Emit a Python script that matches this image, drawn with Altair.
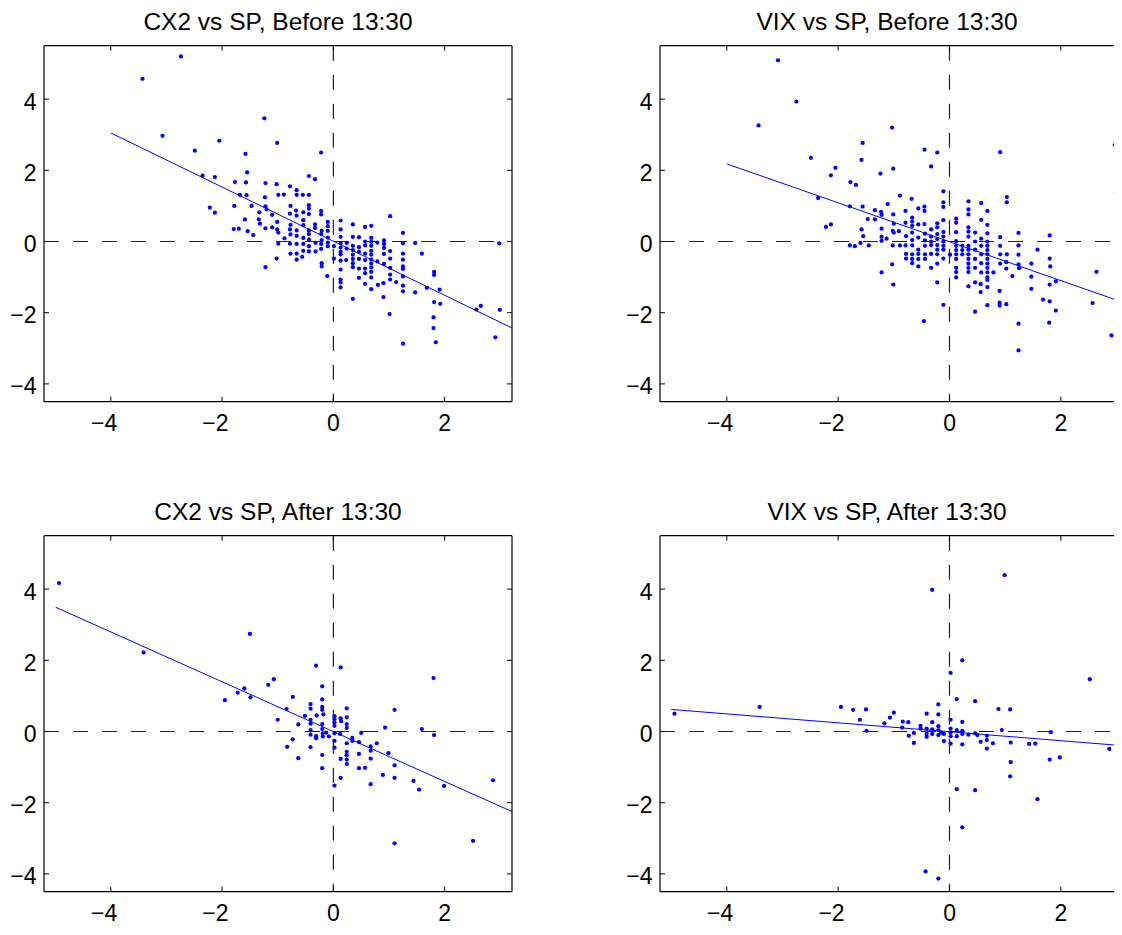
import altair as alt
import pandas as pd

# ---------------- data ----------------
# Top-left: CX2 vs SP, Before 13:30
tl_x = [-3.43, -2.74, -3.07, -2.49, -2.05, -2.35, -2.13, -2.22, -2.13, -1.77, -1.58, -1.55, -1.57, -1.68, -1.56,
        -1.78, -1.79, -1.70, -1.59, -1.54, -1.44, -1.47, -1.33, -1.34, -1.32, -1.24, -1.22, -1.23, -1.22, -1.20,
        -1.22, -1.22, -1.10, -1.10, -1.01, -1.02, -0.99, -1.01, -1.01, -0.99, -0.99, -1.02, -0.89, -0.88, -0.78,
        -0.66, -0.66, -0.77, -0.78, -0.77, -0.78, -0.77, -0.78, -0.77, -0.67, -0.66, -0.66, -0.66, -0.66, -0.66,
        -0.66, -0.55, -0.54, -0.54, -0.54, -0.54, -0.54, -0.54, -0.56, -0.44, -0.44, -0.44, -0.44, -0.44, -0.44,
        -0.44, -0.44, -0.44, -0.44, -0.33, -0.33, -0.33, -0.32, -0.32, -0.22, -0.22, -0.22, -0.21, -0.22, -0.21,
        -0.22, -0.22, -0.21, -0.21, -0.10, -0.10, -0.10, -0.10, -0.10, -0.10, -0.11, 0.01, 0.01, 0.13, 0.13,
        0.13, 0.13, 0.13, 0.13, 0.13, 0.13, 0.13, 0.13, 0.13, 0.13, 0.24, 0.24, 0.23, 0.35, 0.35, 0.35,
        0.35, 0.35, 0.35, 0.35, 0.35, 0.35, 0.46, 0.46, 0.46, 0.46, 0.46, 0.46, 0.57, 0.57, 0.57, 0.57,
        0.57, 0.57, 0.57, 0.57, 0.68, 0.68, 0.68, 0.68, 0.68, 0.68, 0.68, 0.68, 0.68, 0.68, 0.68, 0.68,
        0.79, 0.79, 0.80, 0.91, 0.91, 0.91, 0.91, 0.91, 0.90, 0.90, 1.02, 1.02, 1.02, 1.02, 1.02, 1.02,
        1.01, 1.13, 1.25, 1.25, 1.25, 1.25, 1.25, 1.25, 1.25, 1.25, 1.25, 1.25, 1.47, 1.59, 1.47, 1.68,
        1.81, 1.81, 1.91, 1.81, 1.92, 1.80, 1.80, 1.84, 2.57, 2.65, 2.91, 2.99, 2.98]
tl_y = [4.57, 5.20, 2.97, 2.55, 2.83, 1.85, 1.81, 0.95, 0.81, 1.67, 2.46, 1.94, 1.66, 1.31, 1.30,
        1.00, 0.35, 0.36, 0.62, 0.29, 0.18, 1.00, 0.82, 0.62, 0.50, 3.46, 1.64, 1.24, 0.99, 0.90,
        0.37, -0.72, 0.75, 0.40, 2.77, 1.61, 1.31, 0.55, 0.34, 0.25, -0.06, -0.48, 1.32, 0.09, 1.55,
        1.44, 1.31, 1.00, 0.78, 0.47, 0.34, 0.20, -0.06, -0.34, 0.87, 0.73, 0.31, 0.16, -0.07, -0.34,
        -0.51, 1.31, 0.82, 0.60, 0.46, 0.10, -0.07, -0.26, -0.43, 1.84, 1.31, 1.02, 0.92, 0.77, 0.31,
        0.21, 0.05, -0.13, -0.28, 1.75, 0.48, 0.38, -0.04, -0.28, 2.50, 0.86, 0.76, 0.30, 0.21, 0.04,
        -0.07, -0.21, -0.61, -0.70, 0.55, 0.43, 0.30, 0.11, -0.03, -0.13, -0.97, -0.13, -0.48, 0.59, 0.34,
        0.13, -0.05, -0.17, -0.29, -0.36, -0.54, -0.79, -1.07, -1.15, -1.29, -0.04, -0.20, -0.52, 0.48, 0.13,
        -0.12, -0.24, -0.37, -0.49, -0.61, -0.72, -1.61, 0.12, -0.16, -0.29, -0.49, -0.76, -1.02, 0.41, 0.00,
        -0.11, -0.34, -0.52, -0.76, -0.89, -1.19, 0.44, 0.10, -0.01, -0.12, -0.26, -0.37, -0.51, -0.62, -0.73,
        -0.85, -1.01, -1.34, -0.03, -0.56, -1.22, 0.03, -0.07, -0.18, -0.35, -0.63, -1.17, -1.56, 0.71, -0.27,
        -0.48, -0.74, -0.93, -1.07, -2.04, -1.14, 0.24, -0.05, -0.34, -0.51, -0.70, -0.77, -0.98, -1.24, -1.40,
        -2.87, -0.04, -0.34, -1.43, -1.30, -0.85, -0.94, -1.35, -1.70, -1.75, -2.13, -2.43, -2.83, -1.91, -1.81,
        -2.69, -1.92, -0.05]

# Top-right: VIX vs SP, Before 13:30
tr_x = [-3.08, -2.75, -3.43, -2.49, -2.36, -2.13, -2.05, -2.22, -2.13, -1.78, -1.68, -1.79, -1.79, -1.70, -1.56,
        -1.58, -1.56, -1.58, -1.55, -1.60, -1.45, -1.47, -1.34, -1.34, -1.24, -1.23, -1.22, -1.22, -1.22, -1.22,
        -1.22, -1.13, -1.11, -1.03, -1.01, -1.01, -1.00, -1.02, -1.00, -1.02, -1.03, -1.01, -0.91, -0.89, -0.89,
        -0.79, -0.79, -0.78, -0.79, -0.78, -0.78, -0.68, -0.67, -0.67, -0.67, -0.67, -0.67, -0.67, -0.67, -0.67,
        -0.67, -0.56, -0.56, -0.56, -0.56, -0.56, -0.56, -0.56, -0.45, -0.45, -0.45, -0.45, -0.44, -0.44, -0.44,
        -0.44, -0.44, -0.46, -0.33, -0.33, -0.33, -0.33, -0.33, -0.33, -0.33, -0.22, -0.22, -0.22, -0.22, -0.22,
        -0.22, -0.22, -0.22, -0.22, -0.22, -0.11, -0.11, -0.11, -0.11, -0.11, -0.11, -0.11, -0.11, -0.11, -0.11,
        -0.11, 0.01, 0.12, 0.12, 0.12, 0.12, 0.12, 0.12, 0.12, 0.12, 0.12, 0.12, 0.12, 0.23, 0.23, 0.23,
        0.34, 0.34, 0.34, 0.34, 0.34, 0.34, 0.34, 0.34, 0.34, 0.34, 0.34, 0.34, 0.34, 0.34, 0.46, 0.46,
        0.46, 0.46, 0.46, 0.46, 0.46, 0.57, 0.57, 0.57, 0.57, 0.57, 0.57, 0.57, 0.56, 0.56, 0.68, 0.68,
        0.68, 0.68, 0.68, 0.68, 0.68, 0.68, 0.68, 0.68, 0.68, 0.68, 0.68, 0.68, 0.68, 0.79, 0.91, 0.91,
        0.91, 0.91, 0.91, 0.90, 0.90, 0.90, 1.03, 1.03, 1.03, 1.02, 1.02, 1.02, 1.13, 1.24, 1.24, 1.24,
        1.24, 1.25, 1.24, 1.24, 1.47, 1.47, 1.47, 1.58, 1.68, 1.80, 1.80, 1.81, 1.80, 1.80, 1.79, 1.91,
        1.91, 2.57, 2.64, 2.91, 2.97, 2.99]
tr_y = [5.09, 3.93, 3.26, 2.35, 1.22, 1.86, 2.07, 0.41, 0.48, 1.67, 1.59, 0.99, -0.11, -0.13, 2.77,
        2.29, 0.98, 0.34, 0.15, -0.04, -0.11, 0.63, 0.88, 0.62, 1.91, 0.83, 0.75, 0.36, 0.13, 0.02,
        -0.87, 0.08, 1.05, 3.20, 2.05, 0.76, 0.50, 0.30, 0.25, -0.11, -0.64, -1.21, 0.29, -0.11, 1.29,
        0.86, 0.53, 0.15, -0.11, -0.35, -0.48, 1.20, 0.67, 0.56, 0.44, 0.25, 0.04, -0.11, -0.36, -0.49,
        -0.61, 0.93, 0.48, 0.11, -0.23, -0.35, -0.49, -0.70, 2.58, 0.98, 0.86, 0.49, 0.22, 0.03, -0.12,
        -0.36, -0.49, -2.24, 2.11, 0.34, 0.14, 0.00, -0.10, -0.35, -0.74, 2.50, 0.51, 0.40, 0.21, 0.07,
        -0.10, -0.23, -0.36, -0.62, -1.15, 1.41, 1.10, 0.97, 0.60, 0.27, 0.14, 0.00, -0.12, -0.23, -0.48,
        -1.78, -0.37, 0.64, 0.53, 0.26, 0.01, -0.12, -0.24, -0.36, -0.49, -0.74, -0.86, -1.01, -0.12, -0.24,
        -0.36, 1.13, 0.90, 0.76, 0.40, 0.28, 0.14, -0.12, -0.23, -0.36, -0.49, -0.62, -0.74, -0.86, -1.26,
        0.25, 0.00, -0.23, -0.49, -0.74, -1.15, -1.97, 1.08, 0.61, 0.08, -0.12, -0.36, -0.61, -0.87, -1.20,
        -1.42, 0.86, 0.47, 0.23, 0.00, -0.12, -0.24, -0.36, -0.49, -0.62, -0.74, -0.87, -1.01, -1.08, -1.28,
        -1.79, -0.87, 2.51, 0.12, -0.12, -0.36, -0.62, -1.39, -1.72, -1.80, 1.25, 1.10, -0.36, -0.58, -0.76,
        -1.76, -0.97, 0.24, -0.11, -0.37, -0.64, -0.75, -2.31, -3.06, -0.62, -0.99, -1.33, -0.23, -1.63, 0.17,
        -0.48, -0.70, -1.21, -1.68, -2.28, -1.12, -1.94, -1.73, -0.85, -2.64, 2.71, 1.37]

# Bottom-left: CX2 vs SP, After 13:30
bl_x = [-4.93, -3.41, -1.50, -1.95, -1.72, -1.60, -1.49, -1.17, -1.07, -1.00, -0.84, -0.83, -0.73, -0.73, -0.63,
        -0.63, -0.51, -0.41, -0.41, -0.41, -0.41, -0.41, -0.41, -0.41, -0.31, -0.30, -0.31, -0.31, -0.20, -0.20,
        -0.20, -0.20, -0.18, -0.20, -0.20, -0.19, -0.19, -0.20, -0.20, -0.13, -0.08, 0.02, 0.02, 0.02, 0.02,
        0.02, 0.02, 0.02, 0.02, 0.13, 0.13, 0.14, 0.12, 0.13, 0.13, 0.24, 0.24, 0.24, 0.24, 0.24, 0.24,
        0.24, 0.24, 0.24, 0.34, 0.34, 0.46, 0.46, 0.46, 0.50, 0.57, 0.67, 0.67, 0.67, 0.67, 0.78, 0.89,
        0.93, 0.99, 1.10, 1.10, 1.10, 1.10, 1.44, 1.54, 1.59, 1.80, 1.81, 1.99, 2.51, 2.87]
bl_y = [4.17, 2.22, 2.74, 0.88, 1.09, 1.21, 0.96, 1.31, 1.47, 0.33, 0.63, -0.43, 0.97, -0.22, 0.20,
        -0.75, 0.44, 0.77, 0.64, 0.33, 0.22, 0.04, -0.09, -0.44, 1.85, 0.45, -0.13, -0.19, 1.27, 0.90,
        0.69, 0.61, 0.48, 0.21, 0.07, -0.05, -0.14, -0.66, -1.03, -0.03, -0.14, 0.43, 0.35, 0.25, 0.16,
        -0.05, -0.26, -0.45, -1.52, 1.80, 0.37, 0.29, -0.07, -0.77, -1.30, 0.65, 0.40, 0.21, 0.10, -0.33,
        -0.57, -0.67, -0.79, -0.91, -0.18, -0.26, -0.30, -0.63, -1.03, -0.04, -1.02, -0.42, -0.54, -0.76, -1.48,
        -0.33, -1.22, 0.11, -0.61, 0.61, -0.95, -1.30, -3.14, -1.39, -1.63, 0.07, 1.50, -0.10, -1.53, -3.07,
        -1.37]

# Bottom-right: VIX vs SP, After 13:30
br_x = [-4.94, -3.41, -1.95, -1.73, -1.50, -1.61, -1.49, -1.17, -1.07, -1.00, -0.84, -0.74, -0.85, -0.73, -0.64,
        -0.64, -0.52, -0.52, -0.41, -0.41, -0.41, -0.41, -0.31, -0.31, -0.31, -0.31, -0.20, -0.20, -0.20, -0.20,
        -0.20, -0.15, -0.10, -0.10, -0.43, -0.20, 0.02, 0.02, 0.02, 0.02, 0.02, 0.02, 0.13, 0.13, 0.13,
        0.13, 0.23, 0.23, 0.23, 0.23, 0.23, 0.23, 0.34, 0.46, 0.46, 0.50, 0.46, 0.56, 0.67, 0.67, 0.67,
        0.78, 0.88, 0.94, 0.99, 1.09, 1.10, 1.10, 1.09, 1.43, 1.54, 1.58, 1.82, 1.80, 1.98, 2.52, 2.87]
br_y = [0.50, 0.69, 0.69, 0.61, 0.62, 0.33, 0.02, 0.23, 0.39, 0.53, 0.28, 0.26, 0.11, -0.12, -0.04,
        -0.32, 0.16, 0.08, 0.50, 0.08, -0.06, -0.15, 3.98, 0.26, 0.06, -0.07, 0.76, 0.48, 0.15, 0.04,
        -0.10, -0.03, -0.07, -0.27, -3.93, -4.13, 1.65, 0.33, 0.08, -0.03, -0.13, -0.34, 0.91, 0.04, -0.13,
        -1.62, 2.00, 0.27, 0.02, -0.07, -0.36, -2.69, -0.09, 0.85, -0.05, -0.10, -1.65, -0.29, -0.12, -0.24,
        -0.48, -0.33, 0.63, 0.04, 4.39, 0.62, -0.31, -0.86, -1.26, -0.35, -0.34, -1.90, -0.02, -0.79, -0.73,
        1.47, -0.49]

# fitted regression lines (end points)
tl_fit_x = [-4.0, 3.21]
tl_fit_y = [3.05, -2.43]
tr_fit_x = [-4.0, 3.21]
tr_fit_y = [2.18, -1.76]
bl_fit_x = [-4.99, 3.21]
bl_fit_y = [3.49, -2.25]
br_fit_x = [-5.0, 3.21]
br_fit_y = [0.62, -0.41]

titles = ["CX2 vs SP, Before 13:30", "VIX vs SP, Before 13:30",
          "CX2 vs SP, After 13:30", "VIX vs SP, After 13:30"]

# left panels show the full x range; the right panels are cut at the page edge
X_DOMAIN_LEFT = [-5.2, 3.21]
X_DOMAIN_RIGHT = [-5.2, 2.955]
Y_DOMAIN = [-4.5, 5.5]
X_TICKS = [-4, -2, 0, 2]
Y_TICKS = [-4, -2, 0, 2, 4]

W_LEFT, W_RIGHT, H = 468, 454, 356
ROW_GAP, COL_GAP = 134, 148
FONT = "Liberation Sans"
BLUE = "#0000ff"

ys = alt.Scale(domain=Y_DOMAIN, nice=False, zero=False)

XAXIS = alt.Axis(values=X_TICKS, ticks=False, tickSize=0, domain=False, grid=False, title=None,
                 labelFont=FONT, labelFontSize=23, labelColor="black", labelAlign="right",
                 labelOffset=6, labelPadding=11)
YAXIS = alt.Axis(values=Y_TICKS, ticks=False, tickSize=0, domain=False, grid=False, title=None,
                 labelFont=FONT, labelFontSize=23, labelColor="black", labelPadding=8,
                 labelOffset=3)


def panel(title, px, py, fx, fy, x_domain, W, right_side=True):
    xs = alt.Scale(domain=x_domain, nice=False, zero=False)
    pts = pd.DataFrame({"x": px, "y": py})
    fit = pd.DataFrame({"x": fx, "y": fy})
    xt = pd.DataFrame({"x": X_TICKS})
    yt = pd.DataFrame({"y": Y_TICKS})
    zx = pd.DataFrame({"x": [0]})
    zy = pd.DataFrame({"y": [0]})
    one = pd.DataFrame({"k": [0]})

    X = alt.X("x:Q", scale=xs, axis=XAXIS)
    Y = alt.Y("y:Q", scale=ys, axis=YAXIS)

    points = alt.Chart(pts).mark_circle(color=BLUE, opacity=1, size=18).encode(x=X, y=Y)
    line = alt.Chart(fit).mark_line(color=BLUE, strokeWidth=1, clip=True).encode(x=X, y=Y)
    vdash = alt.Chart(zx).mark_rule(color="#222222", strokeWidth=1.2, strokeDash=[15, 14]).encode(
        x=X, y=alt.value(0), y2=alt.value(H))
    hdash = alt.Chart(zy).mark_rule(color="#222222", strokeWidth=1.2, strokeDash=[15, 14]).encode(
        y=Y, x=alt.value(0), x2=alt.value(W))
    xb = alt.Chart(xt).mark_rule(color="black", strokeWidth=1).encode(
        x=X, y=alt.value(H), y2=alt.value(H - 5))
    xtp = alt.Chart(xt).mark_rule(color="black", strokeWidth=1).encode(
        x=X, y=alt.value(0), y2=alt.value(5))
    yl = alt.Chart(yt).mark_rule(color="black", strokeWidth=1).encode(
        y=Y, x=alt.value(0), x2=alt.value(5))
    # box edges
    top = alt.Chart(one).mark_rule(color="black", strokeWidth=1.2).encode(
        x=alt.value(0), x2=alt.value(W), y=alt.value(0))
    bottom = alt.Chart(one).mark_rule(color="black", strokeWidth=1.2).encode(
        x=alt.value(0), x2=alt.value(W), y=alt.value(H))
    left = alt.Chart(one).mark_rule(color="black", strokeWidth=1.2).encode(
        x=alt.value(0), y=alt.value(0), y2=alt.value(H))
    layers = [points, hdash, vdash, line, xb, xtp, yl, top, bottom, left]
    if right_side:
        yr = alt.Chart(yt).mark_rule(color="black", strokeWidth=1).encode(
            y=Y, x=alt.value(W), x2=alt.value(W - 5))
        right = alt.Chart(one).mark_rule(color="black", strokeWidth=1.2).encode(
            x=alt.value(W), y=alt.value(0), y2=alt.value(H))
        layers += [yr, right]

    return alt.layer(*layers).properties(
        width=W, height=H,
        title=alt.TitleParams(title, font=FONT, fontSize=24.5, fontWeight="normal",
                              color="black", offset=9.5),
    )


p1 = panel(titles[0], tl_x, tl_y, tl_fit_x, tl_fit_y, X_DOMAIN_LEFT, W_LEFT)
p2 = panel(titles[1], tr_x, tr_y, tr_fit_x, tr_fit_y, X_DOMAIN_RIGHT, W_RIGHT, right_side=False)
p3 = panel(titles[2], bl_x, bl_y, bl_fit_x, bl_fit_y, X_DOMAIN_LEFT, W_LEFT)
p4 = panel(titles[3], br_x, br_y, br_fit_x, br_fit_y, X_DOMAIN_RIGHT, W_RIGHT, right_side=False)

# fixed page box (1106 x 919) so the page needs no scrolling; origin = top-left plot corner
BOX_W, BOX_H = 1106, 919
PAD_LEFT, PAD_TOP = 36, 37.7
chart = alt.concat(p1, p2, p3, p4, columns=2, spacing={"row": ROW_GAP, "column": COL_GAP},
                   bounds="flush").properties(
    autosize=alt.AutoSizeParams(type="none"),
    padding={"left": PAD_LEFT, "top": PAD_TOP, "right": BOX_W - PAD_LEFT, "bottom": BOX_H - PAD_TOP},
    background="white",
).configure_view(strokeWidth=0)

chart.save("out.html", embed_options={"renderer": "svg", "actions": False})
